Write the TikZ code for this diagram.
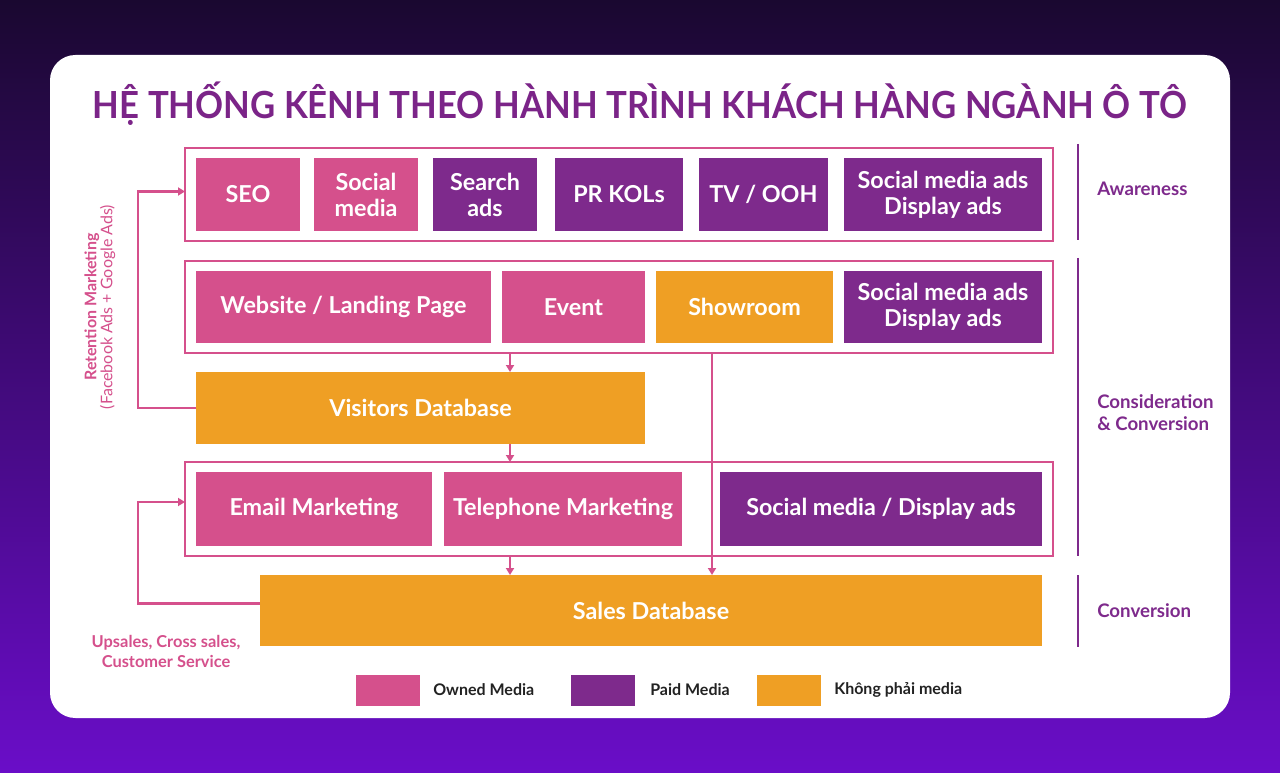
\documentclass[tikz,border=0pt]{standalone}
\usepackage{fontspec}
\setmainfont{Lato}
\usetikzlibrary{arrows.meta}

\definecolor{owned}{HTML}{D5508C}
\definecolor{paid}{HTML}{7E2A8C}
\definecolor{nonmedia}{HTML}{EF9F24}
\definecolor{titlepurple}{HTML}{7B2488}
\definecolor{bgtop}{HTML}{1A0830}
\definecolor{bgbottom}{HTML}{6A0DC8}
\definecolor{legendtext}{HTML}{222222}

\newdimen\px \px=0.75pt

\tikzset{
  cell/.style={anchor=north west, inner sep=0pt, outer sep=0pt, text=white,
    font=\bfseries\fontsize{17.5}{19.5}\selectfont, align=center},
  ownedcell/.style={cell, fill=owned},
  paidcell/.style={cell, fill=paid},
  basecell/.style={cell, fill=nonmedia},
  frame/.style={draw=owned, line width=2.2pt, anchor=north west, inner sep=0pt, outer sep=0pt},
  flow/.style={draw=owned, line width=2pt, -{Triangle[width=6pt,length=5.25pt]}},
  stagebar/.style={draw=paid, line width=2.2pt},
  stagelabel/.style={anchor=west, text=paid, inner sep=0pt,
    font=\bfseries\fontsize{14}{16.5}\selectfont, align=left},
  swatch/.style={anchor=north west, inner sep=0pt, minimum width=64\px, minimum height=31\px},
  legendlabel/.style={anchor=west, inner sep=0pt, text=legendtext,
    font=\bfseries\fontsize{12}{14}\selectfont},
  sidenote/.style={text=owned, inner sep=0pt, align=center}
}

\begin{document}
\begin{tikzpicture}[x=0.75pt,y=0.75pt,yscale=-1]
% background and card
\shade[top color=bgtop, bottom color=bgbottom] (0,0) rectangle (1280,773);
\fill[white, rounded corners=19pt] (50,55) rectangle (1230,718);
\useasboundingbox (0,0) rectangle (1280,773);

% title
\node (title) at (640,104) [text=titlepurple, font=\bfseries\fontsize{28}{32}\selectfont]
  {\scalebox{0.93}[1]{HỆ THỐNG KÊNH THEO HÀNH TRÌNH KHÁCH HÀNG NGÀNH Ô TÔ}};

% frames
\node (row1) at (185,148) [frame, minimum width=868\px, minimum height=93\px] {};
\node (row2) at (185,261) [frame, minimum width=868\px, minimum height=92\px] {};
\node (row3) at (185,462) [frame, minimum width=868\px, minimum height=94\px] {};

% awareness row
\node (seo)    at (196,158) [ownedcell, minimum width=104\px, minimum height=73\px] {SEO};
\node (social) at (314,158) [ownedcell, minimum width=104\px, minimum height=73\px] {Social\\media};
\node (search) at (433,158) [paidcell, minimum width=104\px, minimum height=73\px] {Search\\ads};
\node (pr)     at (555,158) [paidcell, minimum width=128\px, minimum height=73\px] {PR KOLs};
\node (tv)     at (699,158) [paidcell, minimum width=129\px, minimum height=73\px] {TV / OOH};
\node (smads)  at (844,158) [paidcell, minimum width=198\px, minimum height=73\px] {Social media ads\\Display ads};

% consideration row
\node (web)      at (196,271) [ownedcell, minimum width=295\px, minimum height=72\px] {Website / Landing Page};
\node (event)    at (502,271) [ownedcell, minimum width=143\px, minimum height=72\px] {Event};
\node (showroom) at (656,271) [basecell, minimum width=177\px, minimum height=72\px] {Showroom};
\node (smads2)   at (844,271) [paidcell, minimum width=198\px, minimum height=72\px] {Social media ads\\Display ads};

% visitors database
\node (visitors) at (196,372) [basecell, minimum width=449\px, minimum height=72\px] {Visitors Database};

% nurturing row
\node (email) at (196,472) [ownedcell, minimum width=236\px, minimum height=74\px] {Email Marketing};
\node (phone) at (444,472) [ownedcell, minimum width=238\px, minimum height=74\px] {Telephone Marketing};
\node (smdisp) at (720,472) [paidcell, minimum width=322\px, minimum height=74\px] {Social media / Display ads};

% sales database
\node (sales) at (260,575) [basecell, minimum width=782\px, minimum height=71\px] {Sales Database};

% flows
\coordinate (tapA) at (510,0);
\coordinate (tapB) at (712,0);
\coordinate (loopx) at (138,0);
\coordinate (salesout) at ([yshift=-5.25pt]sales.west);
\coordinate (emailin) at ([yshift=-5.25pt]row3.west);
\coordinate (row1in) at ([yshift=-2.25pt]row1.west);
\draw[flow] (tapA |- row2.south) -- (tapA |- visitors.north);
\draw[flow] (tapA |- visitors.south) -- (tapA |- row3.north);
\draw[flow] (tapA |- row3.south) -- (tapA |- sales.north);
\draw[flow] (tapB |- row2.south) -- (tapB |- sales.north);
\draw[flow] (visitors.west) -- (loopx |- visitors.west) |- (row1in);
\draw[flow] (salesout) -- (loopx |- salesout) |- (emailin);

% side notes
\node (retention) at (100,307) [sidenote, rotate=90]
  {\bfseries\fontsize{12}{16.5}\selectfont Retention Marketing\\
   \fontsize{12}{16.5}\selectfont (Facebook Ads + Google Ads)};
\node (upsales) at (166,651) [sidenote, font=\bfseries\fontsize{12.3}{15}\selectfont]
  {Upsales, Cross sales,\\Customer Service};

% stages
\draw[stagebar] (1078,144) -- (1078,240);
\draw[stagebar] (1078,258) -- (1078,556);
\draw[stagebar] (1078,575) -- (1078,647);
\node (awareness) at (1097,189) [stagelabel] {Awareness};
\node (consider)  at (1097,413) [stagelabel] {Consideration\\\& Conversion};
\node (conversion) at (1097,611) [stagelabel] {Conversion};

% legend
\node (keyowned) at (356,675) [swatch, fill=owned] {};
\node (keypaid)  at (571,675) [swatch, fill=paid] {};
\node (keynon)   at (757,675) [swatch, fill=nonmedia] {};
\node at (433,690) [legendlabel] {Owned Media};
\node at (650,690) [legendlabel] {Paid Media};
\node at (834,690) [legendlabel] {Không phải media};

\end{tikzpicture}
\end{document}
